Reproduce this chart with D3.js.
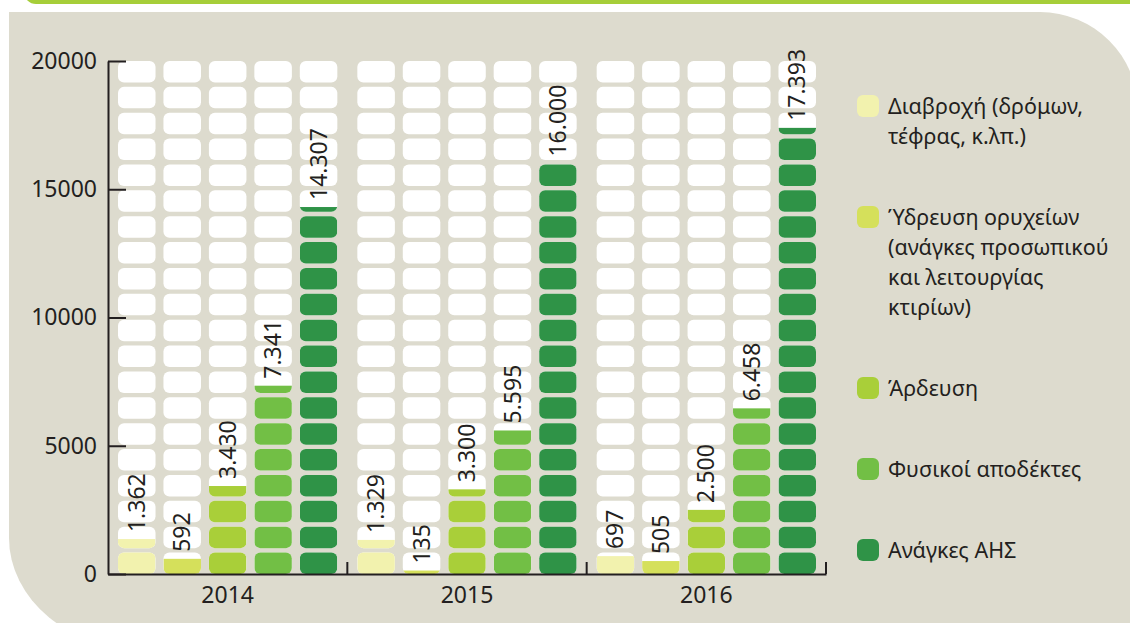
<!DOCTYPE html>
<html lang="el">
  <head>
    <meta charset="utf-8">
    <title>water_use_2014_2016</title>
    <script src="https://d3js.org/d3.v7.min.js"></script>
    <style>
      body { margin: 0; background: #fff; }
      text { font-family: "Noto Sans", sans-serif; fill: #231f20; }
    </style>
  </head>

  <body>

  <script>

// data

  var years = ["2014", "2015", "2016"];
  var seriesNames = ["Διαβροχή", "Ύδρευση ορυχείων", "Άρδευση", "Φυσικοί αποδέκτες", "Ανάγκες ΑΗΣ"];
  var legendLines = [
    ["Διαβροχή (δρόμων,", "τέφρας, κ.λπ.)"],
    ["Ύδρευση ορυχείων", "(ανάγκες προσωπικού", "και λειτουργίας", "κτιρίων)"],
    ["Άρδευση"],
    ["Φυσικοί αποδέκτες"],
    ["Ανάγκες ΑΗΣ"]
  ];
  var values2014 = [1362, 592, 3430, 7341, 14307];
  var values2015 = [1329, 135, 3300, 5595, 16000];
  var values2016 = [697, 505, 2500, 6458, 17393];
  var yTicks = [0, 5000, 10000, 15000, 20000];
  var colors = ["#f2f2ae", "#d5e05b", "#a9cf39", "#72bf45", "#2f9347"];

  var yearValues = [values2014, values2015, values2016];
  var data = years.flatMap((yr, i) => yearValues[i].map((v, j) => ({year: yr, s: j, value: v})));

// layout

  var w = 1130;
  var h = 623;
  var plot = {left: 108, right: 826, top: 61, bottom: 574};

  var svg = d3.select("body")
    .append("svg")
      .attr("width", w)
      .attr("height", h);

  // green band + grey panel
  svg.append("rect")
      .attr("x", 24)
      .attr("y", -40)
      .attr("width", 1200)
      .attr("height", 44)
      .attr("rx", 12)
      .attr("fill", "#a6ce39");

  svg.append("path")
      .attr("d", "M9,12 H1040 A98,98 0 0 1 1138,110 V650 H145 A136,112 0 0 1 9,538 Z")
      .attr("fill", "#dddbce");

  var y = d3.scaleLinear()
      .domain([0, 20000])
      .range([plot.bottom, plot.top]);

  var x0 = d3.scaleBand()
      .domain(years)
      .range([plot.left, plot.right]);

  var x1 = d3.scaleBand()
      .domain(d3.range(seriesNames.length))
      .range([10, x0.bandwidth() - 10])
      .paddingInner(0.174);

  // one cell per 1000
  var rowScale = d3.scaleBand()
      .domain(d3.range(20))
      .range([plot.bottom, plot.top])
      .paddingInner(0.17);

  var cells = [];
  years.forEach(yr => seriesNames.forEach((s, j) => rowScale.domain().forEach(r => cells.push({year: yr, s: j, row: r}))));

  svg.append("defs").append("clipPath")
      .attr("id", "cells")
    .selectAll("rect")
    .data(cells)
    .join("rect")
      .attr("x", d => x0(d.year) + x1(d.s))
      .attr("y", d => rowScale(d.row))
      .attr("width", x1.bandwidth())
      .attr("height", rowScale.bandwidth())
      .attr("rx", 6);

  svg.append("g")
      .attr("class", "cells")
    .selectAll("rect")
    .data(cells)
    .join("rect")
      .attr("x", d => x0(d.year) + x1(d.s))
      .attr("y", d => rowScale(d.row))
      .attr("width", x1.bandwidth())
      .attr("height", rowScale.bandwidth())
      .attr("rx", 6)
      .attr("fill", "#fff");

  svg.append("g")
      .attr("class", "bars")
      .attr("clip-path", "url(#cells)")
    .selectAll("rect")
    .data(data)
    .join("rect")
      .attr("x", d => x0(d.year) + x1(d.s))
      .attr("y", d => y(d.value))
      .attr("width", x1.bandwidth())
      .attr("height", d => y(0) - y(d.value))
      .attr("fill", d => colors[d.s]);

  var fmt = d3.formatLocale({decimal: ",", thousands: ".", grouping: [3], currency: ["", "€"]}).format(",");

  svg.append("g")
      .attr("class", "labels")
    .selectAll("text")
    .data(data)
    .join("text")
      .attr("transform", d => `translate(${x0(d.year) + x1(d.s) + x1.bandwidth() / 2}, ${y(d.value) - 7}) rotate(-90)`)
      .attr("dy", "0.35em")
      .attr("font-size", 23)
      .text(d => fmt(d.value));

// axes

  var yAxis = d3.axisLeft(y)
      .tickValues(yTicks)
      .tickFormat(d3.format("d"))
      .tickSizeInner(-18)
      .tickSizeOuter(0)
      .tickPadding(11);

  var gy = svg.append("g")
      .attr("class", "yAxis")
      .attr("transform", `translate(${plot.left}, 0)`)
      .call(yAxis);

  var xAxis = d3.axisBottom(x0)
      .tickSize(0)
      .tickPadding(13);

  var gx = svg.append("g")
      .attr("class", "xAxis")
      .attr("transform", `translate(0, ${plot.bottom})`)
      .call(xAxis);

  // separators between the years
  gx.selectAll("line.sep")
    .data(years)
    .join("line")
      .attr("class", "sep")
      .attr("x1", d => x0(d) + x0.bandwidth())
      .attr("x2", d => x0(d) + x0.bandwidth())
      .attr("y1", 0)
      .attr("y2", -12);

  svg.selectAll(".yAxis, .xAxis").selectAll("path, line")
      .attr("stroke", "#231f20")
      .attr("stroke-width", 2);
  svg.selectAll(".yAxis text, .xAxis text")
      .attr("font-size", 23)
      .attr("font-family", "Noto Sans, sans-serif")
      .attr("fill", "#231f20");

// legend

  var legend = svg.append("g")
      .attr("class", "legend");

  var ly = 106;
  legendLines.forEach((lines, i) => {
    var item = legend.append("g")
        .attr("transform", `translate(857, ${ly})`);
    item.append("rect")
        .attr("x", 0)
        .attr("y", -11)
        .attr("width", 22)
        .attr("height", 22)
        .attr("rx", 6)
        .attr("fill", colors[i]);
    item.selectAll("text")
      .data(lines)
      .join("text")
        .attr("x", 31)
        .attr("y", (d, k) => k * 30)
        .attr("dy", "0.35em")
        .attr("font-size", 21.5)
        .text(d => d);
    ly += lines.length * 30 + 51;
  });

    </script>

  </body>

</html>
